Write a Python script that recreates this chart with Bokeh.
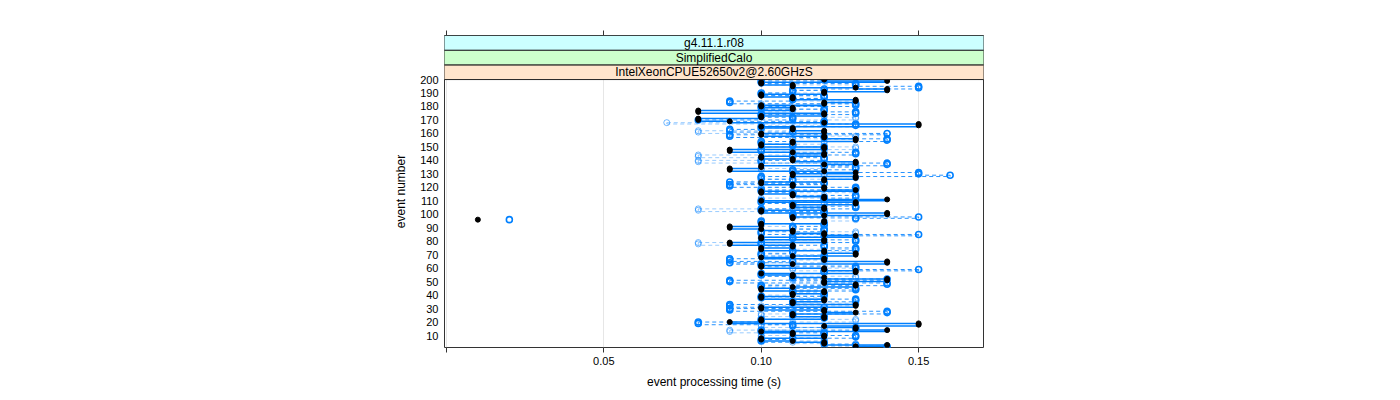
import numpy as np
from bokeh.plotting import figure
from bokeh.models import (Range1d, FixedTicker, LinearAxis, CustomJSTickFormatter,
                          ColumnDataSource)
from bokeh.core.properties import value
from bokeh.embed import file_html
from bokeh.resources import INLINE

# ---- data (event processing time in units of 0.01 s, events 1..200) ----
event_numbers = list(range(1, 201))

run_black = [
    13, 13, 14, 12, 12, 11, 10, 10, 12, 12,
    11, 11, 10, 14, 13, 13, 12, 15, 15, 9,
    10, 10, 12, 12, 11, 11, 13, 12, 12, 10,
    10, 13, 13, 11, 11, 12, 12, 10, 10, 11,
    11, 12, 12, 10, 10, 11, 13, 13, 12, 12,
    14, 14, 12, 11, 11, 10, 13, 13, 12, 12,
    10, 10, 11, 14, 14, 12, 12, 10, 11, 13,
    13, 12, 12, 10, 10, 11, 11, 9, 9, 12,
    12, 10, 10, 13, 12, 12, 11, 11, 10, 9,
    9, 10, 10, 12, 12, 1, 11, 11, 12, 14,
    14, 10, 10, 12, 12, 11, 11, 13, 13, 10,
    14, 12, 12, 11, 11, 10, 10, 13, 12, 12,
    11, 11, 10, 10, 12, 12, 13, 13, 11, 11,
    13, 12, 9, 9, 10, 10, 12, 13, 13, 11,
    11, 10, 10, 12, 12, 11, 9, 9, 12, 12,
    10, 10, 11, 11, 13, 13, 12, 12, 10, 10,
    12, 12, 11, 11, 10, 15, 15, 12, 9, 8,
    8, 10, 10, 12, 12, 8, 8, 11, 11, 10,
    10, 12, 12, 13, 13, 11, 11, 10, 10, 12,
    12, 14, 14, 13, 11, 11, 10, 10, 14, 12,
]

run_blue = [
    14, 14, 13, 12, 12, 10, 10, 11, 13, 13,
    12, 12, 10, 10, 13, 13, 11, 11, 8, 8,
    10, 10, 12, 12, 11, 11, 14, 14, 9, 9,
    12, 9, 9, 11, 11, 13, 13, 10, 10, 12,
    12, 11, 11, 13, 13, 10, 10, 14, 14, 9,
    9, 14, 11, 11, 10, 10, 12, 12, 15, 13,
    13, 10, 10, 9, 11, 9, 9, 12, 12, 10,
    10, 11, 11, 13, 13, 12, 12, 10, 10, 13,
    13, 11, 11, 12, 15, 10, 10, 12, 12, 11,
    11, 12, 12, 10, 10, 2, 13, 15, 11, 11,
    12, 12, 10, 10, 13, 13, 11, 11, 10, 10,
    12, 12, 13, 13, 11, 11, 10, 10, 13, 13,
    9, 9, 12, 9, 11, 11, 10, 10, 16, 15,
    15, 11, 11, 13, 13, 12, 14, 14, 10, 10,
    12, 12, 11, 11, 13, 13, 10, 10, 12, 12,
    11, 11, 10, 10, 14, 14, 12, 9, 9, 14,
    11, 9, 9, 10, 10, 13, 13, 12, 12, 8,
    11, 11, 10, 10, 13, 13, 12, 12, 10, 10,
    13, 13, 9, 9, 11, 11, 12, 12, 10, 10,
    11, 11, 12, 15, 15, 13, 13, 10, 10, 12,
]

run_light = [
    12, 12, 13, 13, 11, 11, 12, 12, 10, 10,
    11, 11, 9, 9, 12, 12, 10, 10, 11, 11,
    13, 13, 12, 12, 10, 10, 11, 11, 12, 12,
    10, 10, 13, 13, 11, 11, 12, 12, 10, 10,
    12, 12, 11, 11, 13, 13, 10, 10, 12, 12,
    11, 11, 13, 13, 10, 10, 12, 12, 11, 11,
    13, 13, 10, 10, 12, 12, 11, 11, 10, 10,
    12, 12, 13, 13, 11, 11, 10, 8, 8, 12,
    12, 10, 10, 11, 11, 13, 13, 12, 12, 11,
    11, 10, 10, 12, 12, 13, 13, 11, 11, 12,
    12, 10, 8, 8, 11, 11, 12, 12, 13, 13,
    10, 10, 12, 12, 11, 11, 13, 13, 10, 10,
    11, 11, 12, 12, 10, 10, 13, 13, 12, 12,
    11, 11, 10, 10, 12, 12, 13, 13, 8, 8,
    10, 10, 8, 8, 12, 12, 11, 11, 13, 13,
    10, 10, 12, 12, 11, 11, 13, 13, 12, 12,
    8, 8, 11, 11, 10, 10, 12, 7, 11, 11,
    13, 13, 12, 12, 10, 10, 11, 11, 12, 12,
    10, 10, 13, 13, 11, 11, 12, 12, 10, 10,
    12, 12, 11, 11, 13, 13, 10, 10, 12, 12,
]

time_unit = 0.01
x_ticks = [0.0, 0.05, 0.10, 0.15]
y_ticks = list(range(10, 201, 10))
strip_labels = ["IntelXeonCPUE52650v2@2.60GHzS", "SimplifiedCalo", "g4.11.1.r08"]
strip_colors = ["#ffe5cc", "#ccffcc", "#ccffff"]

BLUE = "#0080ff"
FONT = "Liberation Sans"

# ---- figure ----
y_lo, y_panel_top, y_hi = 1.1, 200.0, 232.7
p = figure(width=1384, height=392, output_backend="svg", toolbar_location=None,
           x_range=Range1d(-0.0006, 0.1706), y_range=Range1d(y_lo, y_hi),
           min_border_left=444, min_border_right=401, min_border_top=35,
           min_border_bottom=45, background_fill_color="white",
           border_fill_color="white")
p.outline_line_color = "#333333"
p.outline_line_width = 1

ev = np.array(event_numbers, dtype=float)


def step_segments(vals):
    t = np.array(vals, dtype=float) * time_unit
    ok = (t[:-1] >= 0.05) & (t[1:] >= 0.05)
    x0 = np.concatenate([t[:-1][ok], t[1:][ok]])
    x1 = np.concatenate([t[1:][ok], t[1:][ok]])
    y0 = np.concatenate([ev[:-1][ok], ev[:-1][ok]])
    y1 = np.concatenate([ev[:-1][ok], ev[1:][ok]])
    return dict(x0=x0, y0=y0, x1=x1, y1=y1)


# step lines
p.segment(source=ColumnDataSource(step_segments(run_light)), x0="x0", y0="y0",
          x1="x1", y1="y1", line_color=BLUE, line_alpha=0.4, line_width=1,
          line_dash="4 3")
p.segment(source=ColumnDataSource(step_segments(run_blue)), x0="x0", y0="y0",
          x1="x1", y1="y1", line_color=BLUE, line_alpha=0.85, line_width=1,
          line_dash="4 3")
p.segment(source=ColumnDataSource(step_segments(run_black)), x0="x0", y0="y0",
          x1="x1", y1="y1", line_color=BLUE, line_width=1.5)

# points
p.scatter(np.array(run_light) * time_unit, ev, marker="circle", size=6,
          fill_color=None, line_color=BLUE, line_alpha=0.55, line_width=1)
p.scatter(np.array(run_blue) * time_unit, ev, marker="circle", size=6,
          fill_color=None, line_color=BLUE, line_width=1.6)
p.scatter(np.array(run_black) * time_unit, ev, marker="circle", size=5,
          fill_color="black", line_color="black")

# strips (lattice-style)
strip_h = (y_hi - y_panel_top) / len(strip_labels)
bottoms = [y_panel_top + i * strip_h for i in range(len(strip_labels))]
tops = [b + strip_h for b in bottoms]
strip_src = ColumnDataSource(dict(left=[-1.0] * 3, right=[1.0] * 3, bottom=bottoms,
                                  top=tops, color=strip_colors, label=strip_labels,
                                  xc=[(p.x_range.start + p.x_range.end) / 2] * 3,
                                  yc=[b + strip_h / 2 for b in bottoms]))
p.quad(source=strip_src, left="left", right="right", bottom="bottom", top="top",
       fill_color="color", line_color="#222222", line_width=1)
p.text(source=strip_src, x="xc", y="yc", text="label", text_align="center",
       text_baseline="middle", text_font=value(FONT), text_font_size="12px",
       text_color="black")

# grid
p.ygrid.visible = False
p.xgrid.ticker = FixedTicker(ticks=x_ticks)
p.xgrid.grid_line_color = "#e6e6e6"

# bottom axis
xa = p.xaxis[0]
xa.ticker = FixedTicker(ticks=x_ticks)
xa.formatter = CustomJSTickFormatter(code="return tick < 0.001 ? '' : tick.toFixed(2);")
xa.axis_line_color = None
xa.major_tick_out = 5
xa.major_tick_in = 0
xa.minor_tick_line_color = None
xa.major_tick_line_color = "#333333"
xa.major_label_text_font = FONT
xa.major_label_text_font_size = "11px"
xa.major_label_text_color = "black"
xa.major_label_standoff = 4
xa.axis_label = "event processing time (s)"
xa.axis_label_text_font = FONT
xa.axis_label_text_font_size = "12px"
xa.axis_label_text_font_style = "normal"
xa.axis_label_text_color = "black"
xa.axis_label_standoff = 7

# left axis
ya = p.yaxis[0]
ya.ticker = FixedTicker(ticks=y_ticks)
ya.axis_line_color = None
ya.major_tick_line_color = None
ya.minor_tick_line_color = None
ya.major_tick_out = 0
ya.major_tick_in = 0
ya.major_label_text_font = FONT
ya.major_label_text_font_size = "11px"
ya.major_label_text_color = "black"
ya.major_label_standoff = 6
ya.axis_label = "event number"
ya.axis_label_text_font = FONT
ya.axis_label_text_font_size = "12px"
ya.axis_label_text_font_style = "normal"
ya.axis_label_text_color = "black"
ya.axis_label_standoff = 9

# top axis: ticks only
top = LinearAxis(ticker=FixedTicker(ticks=x_ticks),
                 formatter=CustomJSTickFormatter(code="return '';"))
top.axis_line_color = None
top.major_tick_out = 5
top.major_tick_in = 0
top.minor_tick_line_color = None
top.major_tick_line_color = "#333333"
top.major_label_text_font_size = "1px"
top.major_label_standoff = 0
p.add_layout(top, "above")

open("out.html", "w").write(file_html(p, INLINE))
